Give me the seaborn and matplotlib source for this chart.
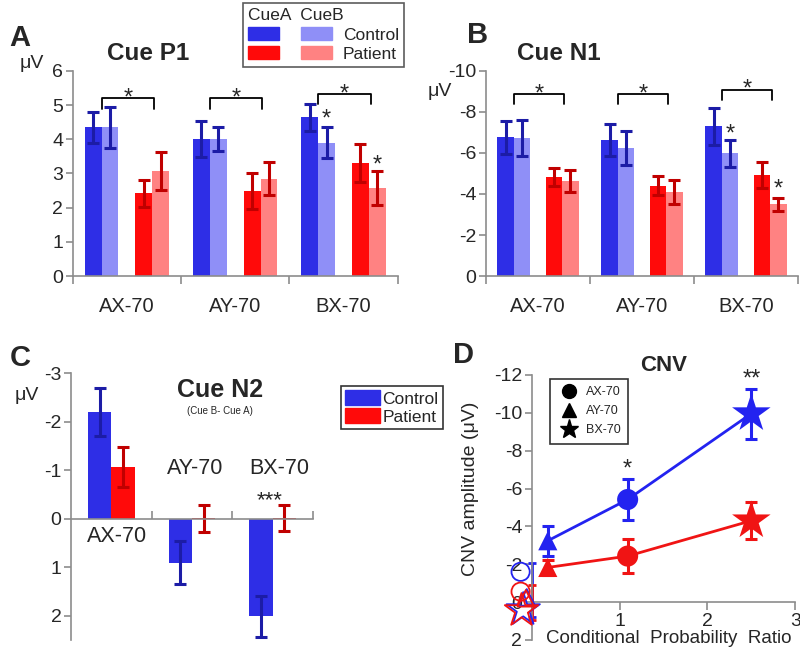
import matplotlib
matplotlib.use("Agg")
import matplotlib.pyplot as plt
import numpy as np
import pandas as pd
import seaborn as sns
from matplotlib.patches import Patch
from matplotlib.lines import Line2D

# ---- donnees ----
conds = ["AX-70", "AY-70", "BX-70"]
levels = ["CueA Control", "CueB Control", "gap", "CueA Patient", "CueB Patient"]

# Cue P1 (uV)
p1_ctrl_a = [4.35, 4.00, 4.64]
p1_ctrl_b = [4.35, 4.00, 3.90]
p1_pat_a = [2.42, 2.49, 3.31]
p1_pat_b = [3.07, 2.85, 2.58]
p1_err_ctrl_a = [0.45, 0.53, 0.40]
p1_err_ctrl_b = [0.60, 0.35, 0.46]
p1_err_pat_a = [0.40, 0.52, 0.55]
p1_err_pat_b = [0.55, 0.49, 0.49]

# Cue N1 (uV)
n1_ctrl_a = [-6.76, -6.63, -7.31]
n1_ctrl_b = [-6.73, -6.25, -5.98]
n1_pat_a = [-4.84, -4.40, -4.92]
n1_pat_b = [-4.64, -4.10, -3.49]
n1_err_ctrl_a = [0.80, 0.78, 0.90]
n1_err_ctrl_b = [0.90, 0.82, 0.67]
n1_err_pat_a = [0.45, 0.47, 0.62]
n1_err_pat_b = [0.52, 0.57, 0.33]

# Cue N2 (Cue B - Cue A)
n2_ctrl = [-2.20, 0.91, 2.01]
n2_pat = [-1.07, -0.01, -0.01]
n2_err_ctrl = [0.50, 0.44, 0.42]
n2_err_pat = [0.41, 0.28, 0.27]

# CNV vs conditional probability ratio (AX, AY, BX)
cpr = [1.09, 0.18, 2.50]
cnv_ctrl = [-5.42, -3.24, -9.96]
cnv_pat = [-2.43, -1.83, -4.30]
cnv_err_ctrl = [1.10, 0.78, 1.32]
cnv_err_pat = [0.90, 0.40, 0.97]
cnv_markers = {"AX-70": "o", "AY-70": "^", "BX-70": "*"}
cnv_sizes = {"AX-70": 230, "AY-70": 190, "BX-70": 850}

# marqueurs creux pres de l'origine (AX, AY, BX)
hollow_x_ctrl = [-0.13, -0.06, -0.10]
hollow_y_ctrl = [-1.60, -0.25, 0.40]
hollow_x_pat = [-0.13, -0.07, -0.12]
hollow_y_pat = [-0.55, -0.20, 0.45]
zero_err_y = [-0.64, 0.03]
zero_err = [1.42, 0.93]

# couleurs
c_blue = "#2e2ee6"
c_lblue = "#8f8ff7"
c_red = "#ff0a0a"
c_lred = "#ff8282"
e_blue = "#1c1ca6"
e_red = "#c00000"
gray = "#8c8c8c"

sns.set_style("white")
plt.rcParams["font.family"] = ["Liberation Sans", "DejaVu Sans"]
plt.rcParams["axes.unicode_minus"] = False

fig = plt.figure(figsize=(8, 6.51), dpi=100)
axA = fig.add_axes([0.091, 0.576, 0.406, 0.315])
axB = fig.add_axes([0.6075, 0.576, 0.39, 0.315])
axC = fig.add_axes([0.089, 0.017, 0.302, 0.41])
axD = fig.add_axes([0.665, 0.017, 0.329, 0.407])

pal = {"CueA Control": c_blue, "CueB Control": c_lblue, "gap": "white",
       "CueA Patient": c_red, "CueB Patient": c_lred}


def style_axes(ax):
    for s in ["top", "right"]:
        ax.spines[s].set_visible(False)
    for s in ["left", "bottom"]:
        ax.spines[s].set_color(gray)
        ax.spines[s].set_linewidth(1.2)
    ax.tick_params(axis="y", direction="out", length=5, color=gray, width=1.2,
                   labelsize=14, pad=2, left=True)


def bar_panel(ax, ca, cb, pa, pb, eca, ecb, epa, epb):
    df = pd.DataFrame({
        "cond": conds * 4,
        "level": [lv for lv in levels if lv != "gap" for _ in conds],
        "val": ca + cb + pa + pb,
    })
    sns.barplot(data=df, x="cond", y="val", hue="level", hue_order=levels,
                palette=pal, width=0.78, errorbar=None, saturation=1,
                linewidth=0, legend=False, ax=ax)
    bars = sorted([p for p in ax.patches if abs(p.get_width()) > 0],
                  key=lambda p: p.get_x())
    errs = []
    for i in range(3):
        errs += [eca[i], ecb[i], epa[i], epb[i]]
    for k, (bar, e) in enumerate(zip(bars, errs)):
        col = e_blue if k % 4 < 2 else e_red
        ax.errorbar(bar.get_x() + bar.get_width() / 2, bar.get_height(), yerr=e,
                    fmt="none", ecolor=col, elinewidth=2.2, capsize=4, capthick=2.2)
    return bars


def bracket(ax, x0, x1, top, drop):
    ax.plot([x0, x0, x1, x1], [top - drop, top, top, top - drop],
            color="black", lw=1.3)
    ax.text((x0 + x1) / 2, top, "*", ha="center", va="center", fontsize=17)


def cat_axis(ax):
    ax.set_xlim(-0.5, 2.5)
    ax.set_xlabel("")
    ax.set_ylabel("")
    ax.tick_params(axis="x", which="major", length=0, labelsize=14.5, pad=15)
    ax.set_xticks([-0.5, 0.5, 1.5, 2.5], minor=True)
    ax.tick_params(axis="x", which="minor", direction="out", length=6,
                   color=gray, width=1.2, bottom=True)


# ---- A : Cue P1 ----
style_axes(axA)
barsA = bar_panel(axA, p1_ctrl_a, p1_ctrl_b, p1_pat_a, p1_pat_b,
                  p1_err_ctrl_a, p1_err_ctrl_b, p1_err_pat_a, p1_err_pat_b)
axA.set_ylim(0, 6)
axA.set_yticks(range(0, 7))
cat_axis(axA)
for i, top in enumerate([5.2, 5.2, 5.32]):
    bracket(axA, i - 0.234, i + 0.25, top, 0.3)
axA.text(barsA[9].get_x() + barsA[9].get_width() / 2, 4.58, "*", ha="center", va="center", fontsize=17)
axA.text(barsA[11].get_x() + barsA[11].get_width() / 2, 3.22, "*", ha="center", va="center", fontsize=17)
fig.text(0.185, 0.918, "Cue P1", fontsize=17.5, fontweight="bold", ha="center", va="center")
fig.text(0.012, 0.942, "A", fontsize=21, fontweight="bold", va="center")
fig.text(0.04, 0.903, "μV", fontsize=14, ha="center", va="center")

# ---- B : Cue N1 ----
style_axes(axB)
barsB = bar_panel(axB, n1_ctrl_a, n1_ctrl_b, n1_pat_a, n1_pat_b,
                  n1_err_ctrl_a, n1_err_ctrl_b, n1_err_pat_a, n1_err_pat_b)
axB.set_ylim(0, -10)
axB.set_yticks(range(0, -11, -2))
cat_axis(axB)
for i, top in enumerate([-8.86, -8.86, -9.07]):
    bracket(axB, i - 0.234, i + 0.25, top, -0.47)
axB.text(barsB[9].get_x() + barsB[9].get_width() / 2, -6.92, "*", ha="center", va="center", fontsize=17)
axB.text(barsB[11].get_x() + barsB[11].get_width() / 2, -4.22, "*", ha="center", va="center", fontsize=17)
fig.text(0.698, 0.918, "Cue N1", fontsize=17.5, fontweight="bold", ha="center", va="center")
fig.text(0.584, 0.946, "B", fontsize=21, fontweight="bold", va="center")
fig.text(0.55, 0.859, "μV", fontsize=14, ha="center", va="center")

# ---- C : Cue N2 ----
style_axes(axC)
dfC = pd.DataFrame({"cond": conds * 2,
                    "group": ["Control"] * 3 + ["Patient"] * 3,
                    "val": n2_ctrl + n2_pat})
sns.barplot(data=dfC, x="cond", y="val", hue="group", hue_order=["Control", "Patient"],
            palette={"Control": c_blue, "Patient": c_red}, width=0.58,
            errorbar=None, saturation=1, linewidth=0, legend=False, ax=axC)
barsC = sorted([p for p in axC.patches if abs(p.get_width()) > 0], key=lambda p: p.get_x())
errsC = [n2_err_ctrl[0], n2_err_pat[0], n2_err_ctrl[1], n2_err_pat[1], n2_err_ctrl[2], n2_err_pat[2]]
for k, (bar, e) in enumerate(zip(barsC, errsC)):
    axC.errorbar(bar.get_x() + bar.get_width() / 2, bar.get_height(), yerr=e,
                 fmt="none", ecolor=e_blue if k % 2 == 0 else e_red,
                 elinewidth=2.2, capsize=4, capthick=2.2)
axC.set_ylim(2.5, -3)
axC.set_yticks(range(-3, 3))
axC.set_xlim(-0.5, 2.5)
axC.set_xlabel("")
axC.set_ylabel("")
axC.spines["bottom"].set_position(("data", 0))
axC.set_xticks([])
axC.set_xticks([0.5, 1.5, 2.5], minor=True)
axC.tick_params(axis="x", which="minor", direction="in", length=6, color=gray,
                width=1.2, bottom=True)
axC.text(0.07, 0.37, "AX-70", fontsize=15.5, ha="center", va="center")
axC.text(1.04, -1.03, "AY-70", fontsize=15.5, ha="center", va="center")
axC.text(2.08, -1.03, "BX-70", fontsize=15.5, ha="center", va="center")
axC.text(1.97, -0.36, "***", fontsize=16, ha="center", va="center")
fig.text(0.275, 0.401, "Cue N2", fontsize=18, fontweight="bold", ha="center", va="center")
fig.text(0.275, 0.369, "(Cue B- Cue A)", fontsize=7, ha="center", va="center")
fig.text(0.012, 0.45, "C", fontsize=21, fontweight="bold", va="center")
fig.text(0.034, 0.393, "μV", fontsize=14, ha="center", va="center")
legC = fig.legend(handles=[Patch(color=c_blue), Patch(color=c_red)],
                  labels=["Control", "Patient"], loc="upper left",
                  bbox_to_anchor=(0.426, 0.407), fontsize=12.5, frameon=True,
                  fancybox=False, edgecolor="black", handlelength=2.0,
                  handleheight=0.9, handletextpad=0.15, borderpad=0.25,
                  labelspacing=0.1, borderaxespad=0)
legC.get_frame().set_linewidth(1.2)

# ---- D : CNV ----
style_axes(axD)
dfD = pd.DataFrame({"cpr": cpr * 2, "cnv": cnv_ctrl + cnv_pat,
                    "group": ["Control"] * 3 + ["Patient"] * 3,
                    "cond": conds * 2})
palD = {"Control": "#2323f0", "Patient": "#f01414"}
sns.lineplot(data=dfD, x="cpr", y="cnv", hue="group", palette=palD, lw=2,
             legend=False, ax=axD)
for g, errs in [("Control", cnv_err_ctrl), ("Patient", cnv_err_pat)]:
    sub = dfD[dfD["group"] == g]
    axD.errorbar(sub["cpr"], sub["cnv"], yerr=errs, fmt="none",
                 ecolor=palD[g], elinewidth=2.2, capsize=4, capthick=2.2)
sns.scatterplot(data=dfD, x="cpr", y="cnv", hue="group", palette=palD,
                style="cond", markers=cnv_markers, size="cond", sizes=cnv_sizes,
                linewidth=0, legend=False, ax=axD, zorder=4)
for xs, ys, g in [(hollow_x_ctrl, hollow_y_ctrl, "Control"), (hollow_x_pat, hollow_y_pat, "Patient")]:
    for x, y, c in zip(xs, ys, conds):
        axD.scatter(x, y, marker=cnv_markers[c], s=cnv_sizes[c] * 0.75,
                    facecolors="none", edgecolors=palD[g], linewidths=1.3,
                    clip_on=False, zorder=5)
for y, e, g in zip(zero_err_y, zero_err, ["Control", "Patient"]):
    axD.errorbar(0.0, y, yerr=e, fmt="none", ecolor=palD[g], elinewidth=2,
                 capsize=3, capthick=2, clip_on=False)
axD.set_xlim(0, 3)
axD.set_ylim(2, -12)
axD.set_yticks(range(-12, 3, 2))
axD.set_xticks([1, 2, 3])
axD.spines["bottom"].set_position(("data", 0))
axD.tick_params(axis="x", direction="out", length=6, color=gray, width=1.2,
                labelsize=14, pad=2, bottom=True)
axD.set_xlabel("")
axD.set_ylabel("CNV amplitude (μV)", fontsize=14, labelpad=6)
axD.yaxis.set_label_coords(-0.2, 0.57)
axD.text(0.52, 0.005, "Conditional  Probability  Ratio", fontsize=13.5,
         ha="center", va="center", transform=axD.transAxes)
axD.text(1.09, -7.0, "*", fontsize=17, ha="center", va="center")
axD.text(2.5, -11.75, "**", fontsize=17, ha="center", va="center")
fig.text(0.829, 0.439, "CNV", fontsize=16, fontweight="bold", ha="center", va="center")
fig.text(0.566, 0.455, "D", fontsize=21, fontweight="bold", va="center")
legD = axD.legend(handles=[Line2D([], [], marker=cnv_markers[c], color="black", ls="none",
                                  markersize=ms) for c, ms in zip(conds, [10, 10, 14])],
                  labels=conds, loc="upper left", bbox_to_anchor=(0.068, 0.985),
                  fontsize=9, frameon=True, fancybox=False, edgecolor="black",
                  handletextpad=0.5, borderpad=0.6, labelspacing=0.55, borderaxespad=0,
                  handlelength=1.8)
legD.get_frame().set_linewidth(1.2)

# ---- legende A ----
legA = fig.legend(handles=[Patch(color=c_blue), Patch(color=c_red),
                           Patch(color=c_lblue), Patch(color=c_lred)],
                  labels=["", "", "Control", "Patient"], ncol=2,
                  title="CueA  CueB", title_fontsize=12.5, alignment="left",
                  loc="upper left", bbox_to_anchor=(0.304, 0.995), fontsize=12.5,
                  frameon=True, fancybox=False, edgecolor="#333333",
                  handlelength=1.75, handleheight=0.8, handletextpad=0.65,
                  columnspacing=0.65, borderpad=0.3, labelspacing=0.2,
                  borderaxespad=0)
legA.get_frame().set_linewidth(1.2)

fig.savefig("out.png", dpi=100)
